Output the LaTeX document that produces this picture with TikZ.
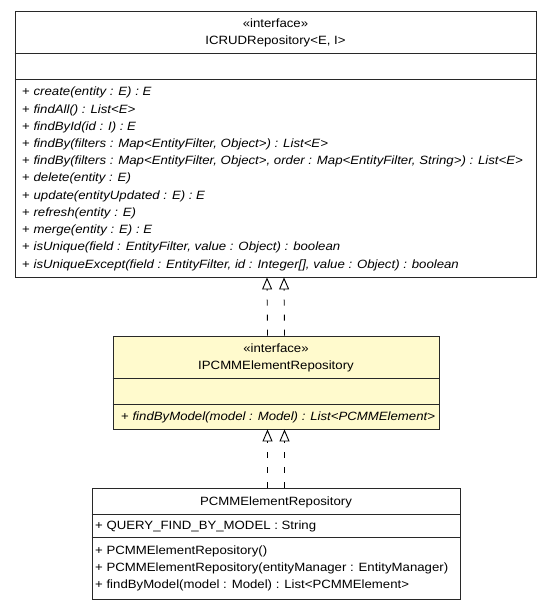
\documentclass[tikz,border=0pt]{standalone}
\usepackage{fontspec}
\setmainfont[FakeStretch=1.1]{Liberation Sans}
\usetikzlibrary{arrows.meta}
\definecolor{ifacefill}{RGB}{255,250,205}
\definecolor{umlline}{RGB}{40,40,40}
\tikzset{
	umlbox/.style={draw=umlline, line width=.9pt, rectangle, inner sep=0pt},
	sep/.style={draw=umlline, line width=.9pt},
	txt/.style={anchor=base west, inner sep=0pt, font=\fontsize{12}{14}\selectfont},
	ctxt/.style={anchor=base, inner sep=0pt, font=\fontsize{12}{14}\selectfont},
	realize/.style={draw=black, line width=.9pt, dash pattern=on 6pt off 9pt,
		-{Triangle[open, length=12pt, width=10pt]}}
}
\begin{document}
\begin{tikzpicture}[x=1pt,y=-1pt]
		\useasboundingbox (0,0) rectangle (552,609);
		
		% ICRUDRepository
		\node[umlbox, fill=white, minimum width=521pt, minimum height=266pt] (crud) at (275.5,144) {};
		\draw[sep] (crud.west |- 0,53) -- (crud.east |- 0,53);
		\draw[sep] (crud.west |- 0,79) -- (crud.east |- 0,79);
		\node[ctxt] (crudst) at (275.5,27.4) {«interface»};
		\node[ctxt] (crudname) at (275.5,44.6) {ICRUDRepository<E, I>};
		\foreach \t [count=\i from 0] in {
			{create(entity : E) : E},
			{findAll() : List<E>},
			{findById(id : I) : E},
			{findBy(filters : Map<EntityFilter, Object>) : List<E>},
			{findBy(filters : Map<EntityFilter, Object>, order : Map<EntityFilter, String>) : List<E>},
			{delete(entity : E)},
			{update(entityUpdated : E) : E},
			{refresh(entity : E)},
			{merge(entity : E) : E},
			{isUnique(field : EntityFilter, value : Object) : boolean},
			{isUniqueExcept(field : EntityFilter, id : Integer[], value : Object) : boolean}}
			\node[txt] (crudop\i) at (22,96+17.2*\i) {+ \textit{\t}};
		
		% IPCMMElementRepository
		\node[umlbox, fill=ifacefill, minimum width=326pt, minimum height=93pt] (ipcmm) at (276,382.5) {};
		\draw[sep] (ipcmm.west |- 0,378) -- (ipcmm.east |- 0,378);
		\draw[sep] (ipcmm.west |- 0,404) -- (ipcmm.east |- 0,404);
		\node[ctxt] (ipcmmst) at (276,352.4) {«interface»};
		\node[ctxt] (ipcmmname) at (276,369.6) {IPCMMElementRepository};
		\node[txt] (ipcmmop) at (121,420.5) {+ \textit{findByModel(model : Model) : List<PCMMElement>}};
		
		% PCMMElementRepository
		\node[umlbox, fill=white, minimum width=368pt, minimum height=111pt] (pcmm) at (276,543.5) {};
		\draw[sep] (pcmm.west |- 0,514) -- (pcmm.east |- 0,514);
		\draw[sep] (pcmm.west |- 0,537) -- (pcmm.east |- 0,537);
		\node[ctxt] (pcmmname) at (276,505) {PCMMElementRepository};
		\node[txt] (pcmmattr) at (95,529.5) {+ QUERY\_FIND\_BY\_MODEL : String};
		\node[txt] (pcmmop0) at (95,554) {+ PCMMElementRepository()};
		\node[txt] (pcmmop1) at (95,571) {+ PCMMElementRepository(entityManager : EntityManager)};
		\node[txt] (pcmmop2) at (95,588) {+ findByModel(model : Model) : List<PCMMElement>};
		
		% realizations
		\foreach \dx in {-8.5,8.5} {
			\draw[realize] ([xshift=\dx pt]ipcmm.north) -- ([xshift=\dx pt]crud.south);
			\draw[realize] ([xshift=\dx pt]pcmm.north) -- ([xshift=\dx pt]ipcmm.south);
		}
\end{tikzpicture}
\end{document}
